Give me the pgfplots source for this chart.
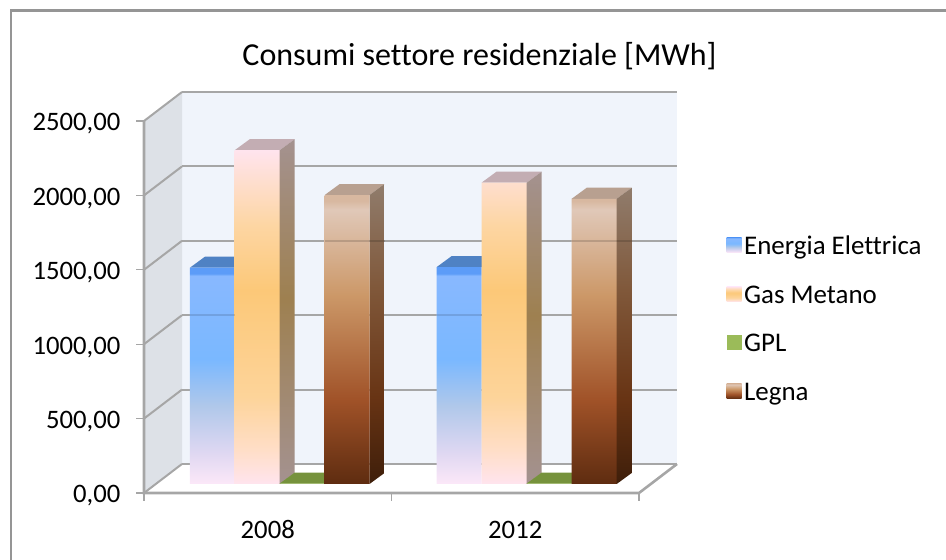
\documentclass[border=0pt]{standalone}
\usepackage{pgfplots}
\pgfplotsset{compat=1.18}
\usepackage{fontspec}
\setmainfont{Carlito}[Ligatures=NoCommon]
\def\u{0.75pt}
% vertical shadings: 25bp = bottom of the path, 75bp = top
\definecolor{bA}{HTML}{FCE8F8}\definecolor{bA2}{HTML}{E0D8F2}\definecolor{bB}{HTML}{B0C8EA}\definecolor{bC}{HTML}{7AB8FF}\definecolor{bD}{HTML}{88B8FF}\definecolor{bE}{HTML}{5C9CF8}
\pgfdeclareverticalshading{blueg}{100bp}{color(0bp)=(bA); color(25bp)=(bA); color(32bp)=(bA2); color(43bp)=(bB); color(53.7bp)=(bC); color(73bp)=(bD); color(73.5bp)=(bE); color(75bp)=(bE); color(100bp)=(bE)}
\definecolor{gA}{HTML}{FFE4EE}\definecolor{gA2}{HTML}{FFDEC8}\definecolor{gB}{HTML}{FDD49A}\definecolor{gC}{HTML}{FCC878}\definecolor{gD}{HTML}{FDD6A4}
\pgfdeclareverticalshading{gasg}{100bp}{color(0bp)=(gA); color(25bp)=(gA); color(30bp)=(gA2); color(38bp)=(gB); color(54bp)=(gC); color(64bp)=(gD); color(75bp)=(gA); color(100bp)=(gA)}
\definecolor{gsA}{HTML}{A49290}\definecolor{gsB}{HTML}{9E8050}
\pgfdeclareverticalshading{gasside}{100bp}{color(0bp)=(gsA); color(25bp)=(gsA); color(52bp)=(gsB); color(75bp)=(gsA); color(100bp)=(gsA)}
\definecolor{lA}{HTML}{5E2C10}\definecolor{lB}{HTML}{A05228}\definecolor{lC}{HTML}{CC9868}\definecolor{lD}{HTML}{E0C8B8}\definecolor{lE}{HTML}{D8B8A0}
\pgfdeclareverticalshading{legnag}{100bp}{color(0bp)=(lA); color(25bp)=(lA); color(39.5bp)=(lB); color(57.7bp)=(lC); color(72.5bp)=(lD); color(74bp)=(lE); color(75bp)=(lE); color(100bp)=(lE)}
\definecolor{lsA}{HTML}{3E1E0A}\definecolor{lsB}{HTML}{683414}\definecolor{lsC}{HTML}{80583A}\definecolor{lsD}{HTML}{907C6C}
\pgfdeclareverticalshading{legnaside}{100bp}{color(0bp)=(lsA); color(25bp)=(lsA); color(39.5bp)=(lsB); color(57.7bp)=(lsC); color(75bp)=(lsD); color(100bp)=(lsD)}
\definecolor{gridc}{HTML}{A6A6A6}
\definecolor{wallb}{HTML}{F0F4FB}
\definecolor{walll}{HTML}{DDE1E7}
\definecolor{gasgtop}{HTML}{C3ADB3}
\definecolor{legtop}{HTML}{B8A090}
\definecolor{bluetop}{HTML}{4F82C4}
\definecolor{gpltop}{HTML}{76923C}
\definecolor{gplleg}{HTML}{9BBB59}
\pgfplotsset{
 gridln/.style={draw=gridc,line width=2*\u,forget plot},
 barplace/.style={yshift=9*\u,forget plot,draw=none},
 legbox/.style={legend image code/.code={\path[shade,shading=#1,draw=none] (0,-15*\u) rectangle (15*\u,0);}},
}
\begin{document}
\begin{tikzpicture}
\useasboundingbox (0,0) rectangle (946*\u,560*\u);
\draw[draw=gridc!90!black,line width=2.2*\u] (11*\u,0) -- (11*\u,549.5*\u) -- (946*\u,549.5*\u);
\node[font=\fontsize{24}{28}\selectfont,anchor=center] at (479.5*\u,503.5*\u) {Consumi settore residenziale [MWh]};
\begin{axis}[
 at={(144*\u,67*\u)},anchor=south west,
 scale only axis,width=533*\u,height=401*\u,
 xmin=144,xmax=677,ymin=0,ymax=2695,
 clip=false,
 axis line style={draw=none},
 axis x line*=bottom,axis y line*=left,
 tick style={draw=gridc,line width=1.2*\u},
 tick align=outside,
 major tick length=8*\u,
 ytick={0,500,1000,1500,2000,2500},
 xtick={144,391.5,639},
 xticklabels={},
 extra x ticks={267.75,515.25},
 extra x tick labels={2008,2012},
 extra x tick style={major tick length=0pt},
 xticklabel style={yshift=-23*\u},
 yticklabel style={xshift=-11*\u,yshift=-3*\u},
 tick label style={font=\fontsize{20}{22}\selectfont},
 /pgf/number format/assume math mode=true,
 /pgf/number format/.cd,fixed,fixed zerofill,precision=2,use comma,1000 sep={},
 /pgfplots/.cd,
 legend style={draw=none,fill=none,at={(axis cs:726.5,1168)},anchor=west,font=\fontsize{20.2}{22}\selectfont,row sep=23.8*\u,inner sep=0pt,outer sep=0pt,legend cell align=left},
]
% walls
\addplot[fill=wallb,draw=none,forget plot] coordinates {(182,195)(677,195)(677,2695)(182,2695)} --cycle;
\addplot[fill=walll,draw=none,forget plot] coordinates {(144,0)(182,195)(182,2695)(144,2500)} --cycle;
% gridlines, back wall
\addplot[gridln] coordinates {(182,195)(677,195)};
\addplot[gridln] coordinates {(182,695)(677,695)};
\addplot[gridln] coordinates {(182,1195)(677,1195)};
\addplot[gridln] coordinates {(182,1695)(677,1695)};
\addplot[gridln] coordinates {(182,2195)(677,2195)};
\addplot[gridln] coordinates {(182,2695)(677,2695)};
% gridlines, side wall
\addplot[gridln] coordinates {(144,0)(182,195)};
\addplot[gridln] coordinates {(144,500)(182,695)};
\addplot[gridln] coordinates {(144,1000)(182,1195)};
\addplot[gridln] coordinates {(144,1500)(182,1695)};
\addplot[gridln] coordinates {(144,2000)(182,2195)};
\addplot[gridln] coordinates {(144,2500)(182,2695)};
\addplot[gridln,line width=2.6*\u] coordinates {(144,2500)(144,0)(639,0)(677,195)};
% Energia Elettrica
\addplot[barplace,fill=bluetop] coordinates {(190,1454)(234.7,1454)(249.7,1528)(205,1528)} --cycle;
\addplot[barplace,fill=bluetop] coordinates {(436.7,1458)(481.5,1458)(496.5,1532)(451.7,1532)} --cycle;
\addplot[ybar,bar shift=0pt,bar width=44.8*\u,yshift=9*\u,draw=none,shade,shading=blueg,legbox=blueg] coordinates {(212.35,1454)(459.1,1458)};
\addlegendentry{Energia Elettrica}
% Gas Metano
\addplot[barplace,fill=gasgtop] coordinates {(234.7,2243)(279.7,2243)(294.7,2317)(249.7,2317)} --cycle;
\addplot[barplace,shade,shading=gasside] coordinates {(279.7,0)(294.7,74)(294.7,2317)(279.7,2243)} --cycle;
\addplot[barplace,fill=gasgtop] coordinates {(481.5,2025)(526.7,2025)(541.7,2099)(496.5,2099)} --cycle;
\addplot[barplace,shade,shading=gasside] coordinates {(526.7,0)(541.7,74)(541.7,2099)(526.7,2025)} --cycle;
\addplot[ybar,bar shift=0pt,bar width=45*\u,yshift=9*\u,draw=none,shade,shading=gasg,legbox=gasg] coordinates {(257.2,2243)(504.1,2025)};
\addlegendentry{Gas Metano}
% GPL
\addplot[barplace,fill=gpltop] coordinates {(279.7,3)(324.7,3)(339.7,77)(294.7,77)} --cycle;
\addplot[barplace,fill=gpltop] coordinates {(526.7,3)(571.7,3)(586.7,77)(541.7,77)} --cycle;
\addplot[ybar,bar shift=0pt,bar width=45*\u,yshift=9*\u,draw=none,fill=gplleg,legend image code/.code={\path[fill=gplleg] (0,-15*\u) rectangle (15*\u,0);}] coordinates {(302.2,3)(549.2,3)};
\addlegendentry{GPL}
% Legna
\addplot[barplace,fill=legtop] coordinates {(324.7,1942)(369.5,1942)(384.5,2016)(339.7,2016)} --cycle;
\addplot[barplace,shade,shading=legnaside] coordinates {(369.5,0)(384.5,74)(384.5,2016)(369.5,1942)} --cycle;
\addplot[barplace,fill=legtop] coordinates {(571.7,1917)(616.7,1917)(631.7,1991)(586.7,1991)} --cycle;
\addplot[barplace,shade,shading=legnaside] coordinates {(616.7,0)(631.7,74)(631.7,1991)(616.7,1917)} --cycle;
\addplot[ybar,bar shift=0pt,bar width=45*\u,yshift=9*\u,draw=none,shade,shading=legnag,legbox=legnag] coordinates {(347.1,1942)(594.2,1917)};
\addlegendentry{Legna}
% gridlines showing faintly through the glassy bars
\addplot[gridln,draw=black,opacity=0.12] coordinates {(190,1195)(234.7,1195)};
\addplot[gridln,draw=black,opacity=0.12] coordinates {(436.7,1195)(481.5,1195)};
\addplot[gridln,draw=black,opacity=0.15] coordinates {(324.7,1695)(384.5,1695)};
\addplot[gridln,draw=black,opacity=0.15] coordinates {(571.7,1695)(631.7,1695)};
\end{axis}
\end{tikzpicture}
\end{document}
